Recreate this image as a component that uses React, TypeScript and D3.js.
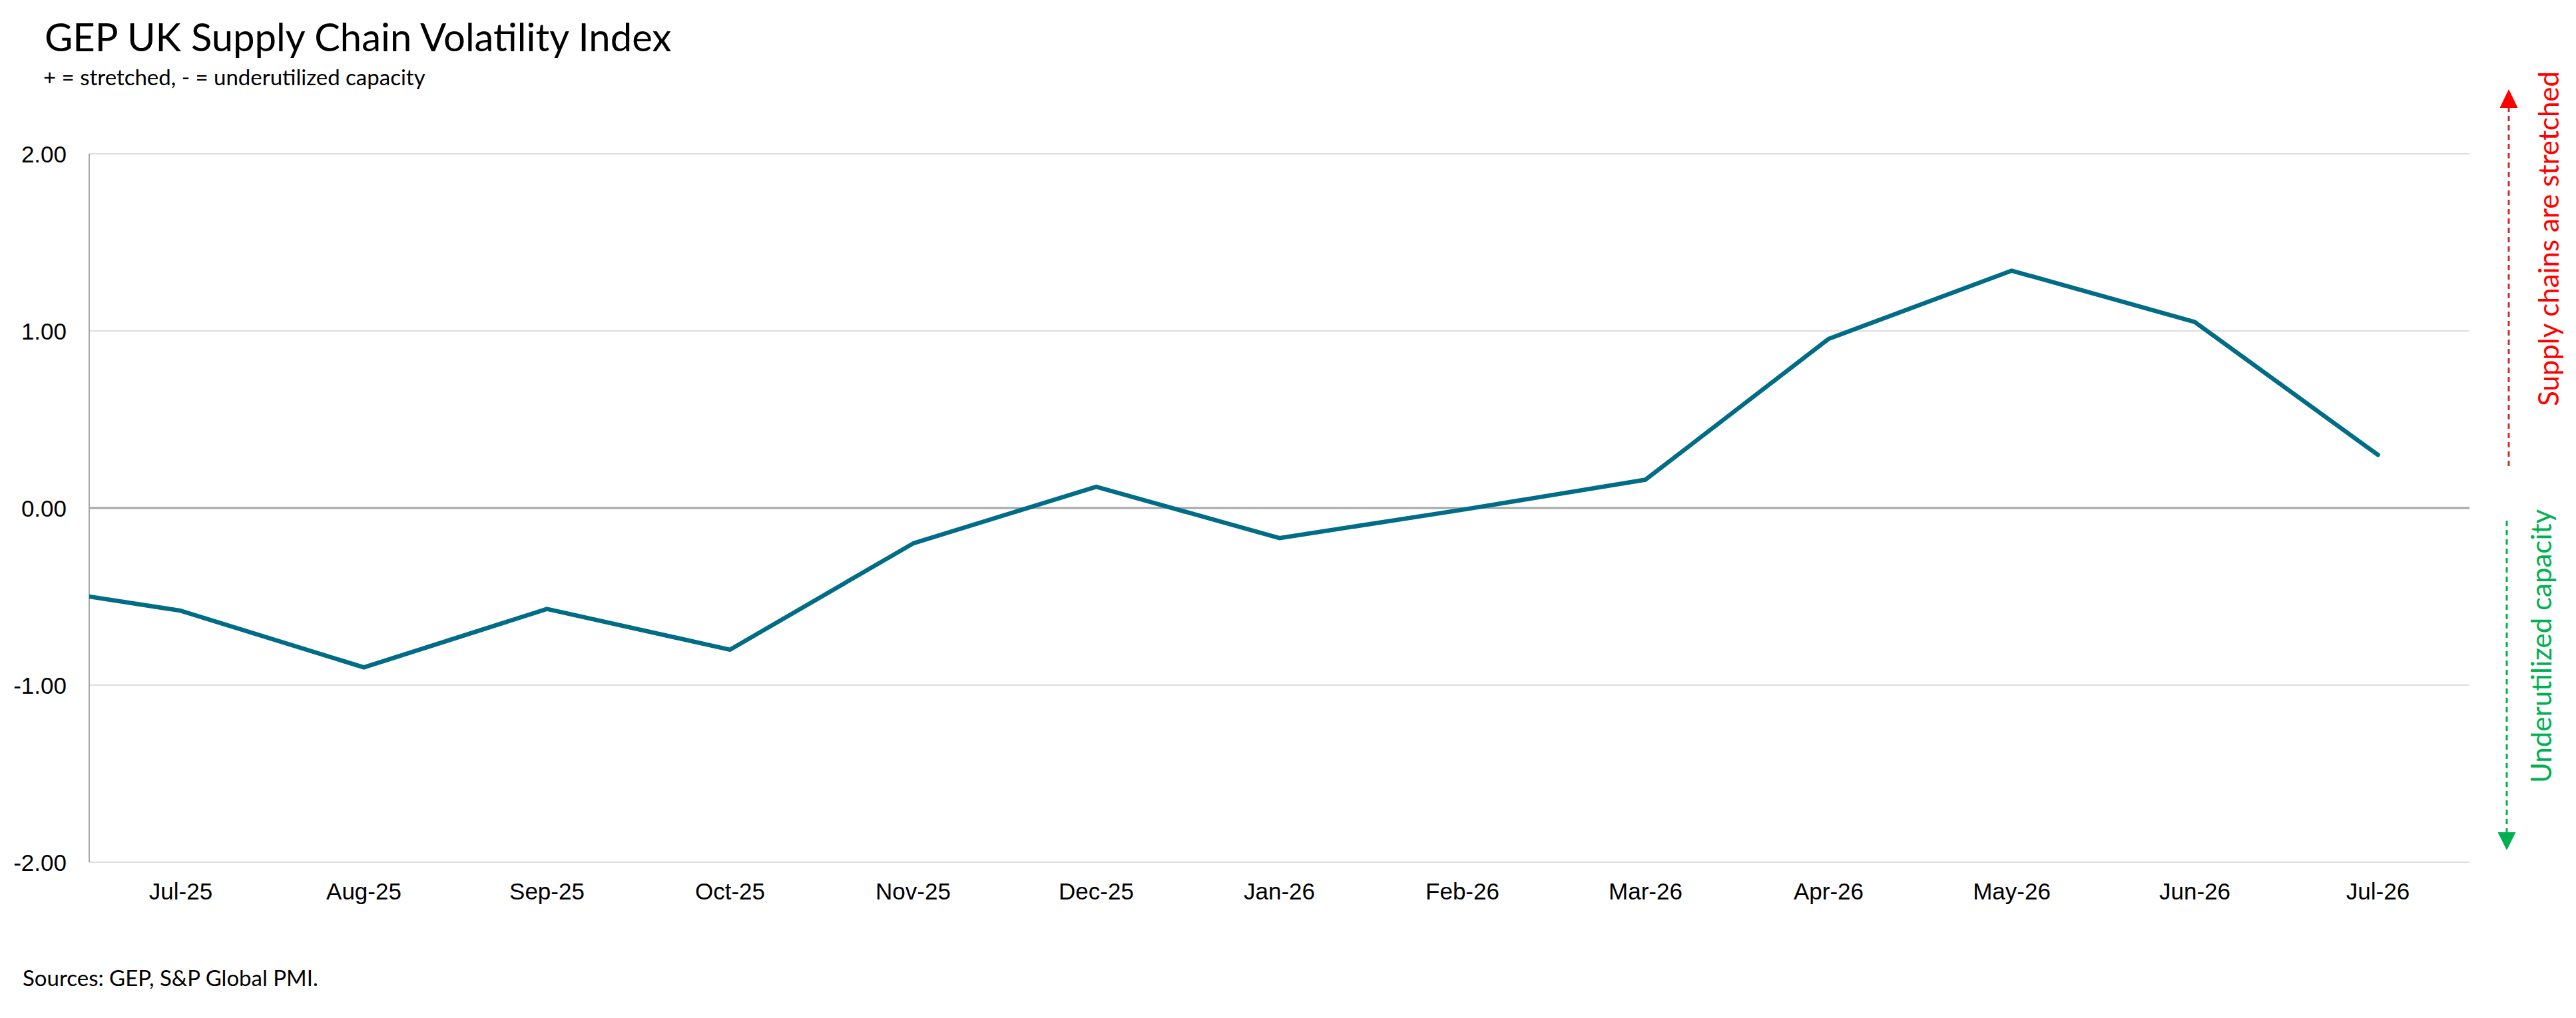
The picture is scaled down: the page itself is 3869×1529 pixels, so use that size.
import * as d3 from "d3";
import { useEffect, useRef } from "react";

// months shown on the axis, plus the hidden Jun-25 point the line comes in from
const months = ["Jul-25", "Aug-25", "Sep-25", "Oct-25", "Nov-25", "Dec-25", "Jan-26", "Feb-26", "Mar-26", "Apr-26", "May-26", "Jun-26", "Jul-26"];
const priorValue = -0.42;
const values = [-0.58, -0.9, -0.57, -0.8, -0.2, 0.12, -0.17, -0.01, 0.16, 0.955, 1.34, 1.05, 0.3];
const yTicks = [-2, -1, 0, 1, 2];

const W = 3869;
const H = 1529;
const calibri = "Lato, 'Noto Sans', sans-serif";
const arial = "'Liberation Sans', Arial, sans-serif";

export default function App() {
  const ref = useRef<SVGSVGElement>(null);

  useEffect(() => {
    const svg = d3.select(ref.current);
    svg.selectAll("*").remove();

    const left = 134;
    const right = 3709;
    const top = 231;
    const bottom = 1295;

    // index scale so the hidden point (index -1) falls half a band left of the axis
    const x = d3.scaleLinear().domain([-0.5, months.length - 0.5]).range([left, right]);
    const y = d3.scaleLinear().domain([-2, 2]).range([bottom, top]);

    svg.append("rect").attr("width", W).attr("height", H).attr("fill", "white");

    // titles
    svg.append("text")
      .attr("x", 67).attr("y", 77)
      .attr("font-family", calibri).attr("font-size", 58)
      .attr("fill", "#000")
      .text("GEP UK Supply Chain Volatility Index");
    svg.append("text")
      .attr("x", 65).attr("y", 128)
      .attr("font-family", calibri).attr("font-size", 33)
      .attr("fill", "#000")
      .text("+ = stretched, - = underutilized capacity");

    // gridlines
    svg.append("g")
      .selectAll("line")
      .data(yTicks)
      .join("line")
      .attr("x1", left).attr("x2", right)
      .attr("y1", (d) => y(d)).attr("y2", (d) => y(d))
      .attr("stroke", (d) => (d === 0 ? "#a6a6a6" : "#dedede"))
      .attr("stroke-width", (d) => (d === 0 ? 3 : 2));

    // y axis line
    svg.append("line")
      .attr("x1", left).attr("x2", left)
      .attr("y1", top).attr("y2", bottom)
      .attr("stroke", "#a6a6a6").attr("stroke-width", 2);

    // y tick labels
    svg.append("g")
      .selectAll("text")
      .data(yTicks)
      .join("text")
      .attr("x", 100).attr("y", (d) => y(d))
      .attr("text-anchor", "end").attr("dominant-baseline", "central")
      .attr("font-family", arial).attr("font-size", 35)
      .attr("fill", "#000")
      .text((d) => d.toFixed(2));

    // x tick labels
    svg.append("g")
      .selectAll("text")
      .data(months)
      .join("text")
      .attr("x", (_, i) => x(i)).attr("y", 1338)
      .attr("text-anchor", "middle").attr("dominant-baseline", "central")
      .attr("font-family", arial).attr("font-size", 35)
      .attr("fill", "#000")
      .text((d) => d);

    // line, clipped to the plot area
    svg.append("clipPath").attr("id", "plot-clip")
      .append("rect")
      .attr("x", left).attr("y", 0)
      .attr("width", right - left).attr("height", H);

    const pts: [number, number][] = [[-1, priorValue], ...values.map((v, i) => [i, v] as [number, number])];
    const line = d3.line<[number, number]>().x((d) => x(d[0])).y((d) => y(d[1]));
    svg.append("path")
      .attr("clip-path", "url(#plot-clip)")
      .attr("d", line(pts))
      .attr("fill", "none")
      .attr("stroke", "#006c85")
      .attr("stroke-width", 6.5)
      .attr("stroke-linejoin", "round")
      .attr("stroke-linecap", "round");

    // side annotations
    const red = "#ff0000";
    const green = "#00b050";
    svg.append("line")
      .attr("x1", 3768).attr("x2", 3768).attr("y1", 160).attr("y2", 706)
      .attr("stroke", "#d42a2a").attr("stroke-width", 3).attr("stroke-dasharray", "8 6");
    svg.append("path")
      .attr("d", "M3768,134 L3781.5,162 L3754.5,162 Z")
      .attr("fill", red);
    svg.append("text")
      .attr("transform", "translate(3843,610) rotate(-90)")
      .attr("font-family", calibri).attr("font-size", 42)
      .attr("fill", red)
      .text("Supply chains are stretched");

    svg.append("line")
      .attr("x1", 3765).attr("x2", 3765).attr("y1", 782).attr("y2", 1250)
      .attr("stroke", green).attr("stroke-width", 3).attr("stroke-dasharray", "8 6");
    svg.append("path")
      .attr("d", "M3765,1277 L3778.5,1250 L3751.5,1250 Z")
      .attr("fill", green);
    svg.append("text")
      .attr("transform", "translate(3832,1176) rotate(-90)")
      .attr("font-family", calibri).attr("font-size", 42)
      .attr("fill", green)
      .text("Underutilized capacity");

    // source note
    svg.append("text")
      .attr("x", 34).attr("y", 1481)
      .attr("font-family", calibri).attr("font-size", 33)
      .attr("fill", "#000")
      .text("Sources: GEP, S&P Global PMI.");
  }, []);

  return (
    <div>
      <style>{"body{margin:0}"}</style>
      <svg ref={ref} width={W} height={H} style={{ display: "block" }} />
    </div>
  );
}
